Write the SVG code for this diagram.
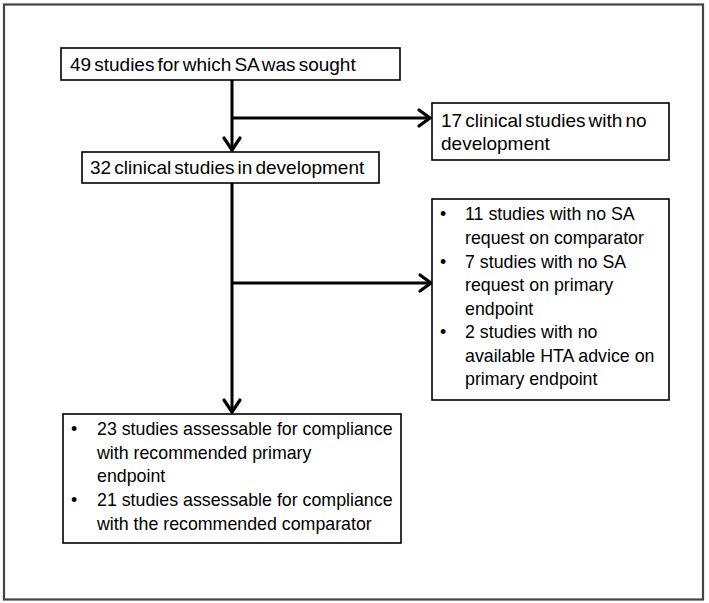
<svg xmlns="http://www.w3.org/2000/svg" width="709" height="603" viewBox="0 0 709 603">
<style>
.box{fill:#fff;stroke:#000;stroke-width:1.6}
.t{font-family:"Liberation Sans",Arial,sans-serif;font-size:19px;fill:#000;word-spacing:-2.2px}
.b{font-family:"Liberation Sans",Arial,sans-serif;font-size:17.8px;fill:#000}
.ln{stroke:#000;stroke-width:3;fill:none}
.ah{stroke:#000;stroke-width:3.2;fill:none;stroke-linecap:round;stroke-linejoin:miter}
</style>
<rect x="0" y="0" width="709" height="603" fill="#fff"/>
<rect x="4" y="4.5" width="699" height="595" fill="none" stroke="#444" stroke-width="2.2"/>
<g id="connectors">
<line class="ln" x1="232" y1="80" x2="232" y2="149"/>
<polyline class="ah" points="224,138 232,150 240,138"/>
<line class="ln" x1="232" y1="118" x2="428" y2="118"/>
<polyline class="ah" points="419,110 430,118 419,126"/>
<line class="ln" x1="232" y1="183" x2="232" y2="411"/>
<polyline class="ah" points="224,400 232,412 240,400"/>
<line class="ln" x1="232" y1="283" x2="429" y2="283"/>
<polyline class="ah" points="420,275 431,283 420,291"/>
</g>
<g id="n1">
<rect class="box" x="61" y="48" width="339" height="32"/>
<text class="t" x="70" y="71">49 studies for which SA was sought</text>
</g>
<g id="n2">
<rect class="box" x="432" y="103" width="237" height="57"/>
<text class="t" x="441" y="127">17 clinical studies with no</text>
<text class="t" x="441" y="150">development</text>
</g>
<g id="n3">
<rect class="box" x="82" y="152" width="297" height="31"/>
<text class="t" x="90" y="174">32 clinical studies in development</text>
</g>
<g id="n4">
<rect class="box" x="432" y="199" width="237" height="201"/>
<text class="b" x="440" y="220">•</text><text class="b" x="465" y="220">11 studies with no SA</text>
<text class="b" x="465" y="243.5">request on comparator</text>
<text class="b" x="440" y="267.5">•</text><text class="b" x="465" y="267.5">7 studies with no SA</text>
<text class="b" x="465" y="291">request on primary</text>
<text class="b" x="465" y="314.5">endpoint</text>
<text class="b" x="440" y="338">•</text><text class="b" x="465" y="338">2 studies with no</text>
<text class="b" x="465" y="361.5">available HTA advice on</text>
<text class="b" x="465" y="385">primary endpoint</text>
</g>
<g id="n5">
<rect class="box" x="63" y="414" width="338" height="129"/>
<text class="b" x="71" y="435">•</text><text class="b" x="97" y="435">23 studies assessable for compliance</text>
<text class="b" x="97" y="458.5">with recommended primary</text>
<text class="b" x="97" y="482">endpoint</text>
<text class="b" x="71" y="506">•</text><text class="b" x="97" y="506">21 studies assessable for compliance</text>
<text class="b" x="97" y="529.5">with the recommended comparator</text>
</g>
</svg>
